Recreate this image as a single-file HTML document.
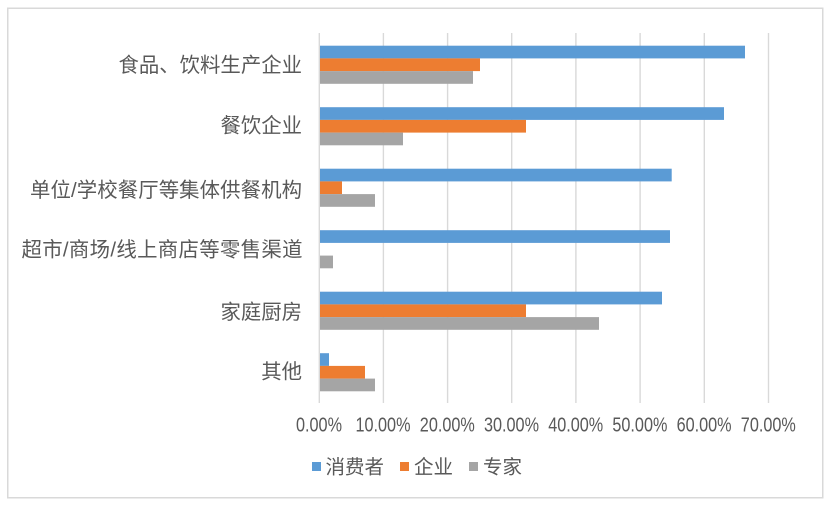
<!DOCTYPE html>
<html>
<head>
<meta charset="utf-8">
<style>
  html, body { margin: 0; padding: 0; background: #ffffff; }
  body { width: 830px; height: 507px; overflow: hidden; }
  svg { display: block; }
  .cat { font-family: "Liberation Sans", "Noto Sans CJK SC", sans-serif; font-size: 20.4px; fill: #595959; }
  .tick { font-family: "Liberation Sans", sans-serif; font-size: 20px; fill: #595959; }
  .leg { font-family: "Liberation Sans", "Noto Sans CJK SC", sans-serif; font-size: 19.5px; fill: #595959; }
</style>
</head>
<body>
<svg width="830" height="507" viewBox="0 0 830 507" xmlns="http://www.w3.org/2000/svg">
  <rect x="0" y="0" width="830" height="507" fill="#ffffff"/>
  <rect x="7.75" y="8.25" width="815" height="489.5" fill="none" stroke="#d9d9d9" stroke-width="1.5"/>

  <!-- gridlines -->
  <g stroke="#d9d9d9" stroke-width="1.4">
    <line x1="319.3" y1="33" x2="319.3" y2="403"/>
    <line x1="383.4" y1="33" x2="383.4" y2="403"/>
    <line x1="447.6" y1="33" x2="447.6" y2="403"/>
    <line x1="511.7" y1="33" x2="511.7" y2="403"/>
    <line x1="575.9" y1="33" x2="575.9" y2="403"/>
    <line x1="640.1" y1="33" x2="640.1" y2="403"/>
    <line x1="704.3" y1="33" x2="704.3" y2="403"/>
    <line x1="768.5" y1="33" x2="768.5" y2="403"/>
  </g>

  <!-- bars -->
  <g>
    <rect x="320" y="45.7" width="425" height="12.7" fill="#5b9bd5"/>
    <rect x="320" y="58.4" width="160" height="12.7" fill="#ed7d31"/>
    <rect x="320" y="71.1" width="153" height="12.7" fill="#a5a5a5"/>

    <rect x="320" y="107.2" width="404" height="12.7" fill="#5b9bd5"/>
    <rect x="320" y="119.9" width="206" height="12.7" fill="#ed7d31"/>
    <rect x="320" y="132.6" width="83" height="12.7" fill="#a5a5a5"/>

    <rect x="320" y="168.7" width="351.7" height="12.7" fill="#5b9bd5"/>
    <rect x="320" y="181.4" width="22" height="12.7" fill="#ed7d31"/>
    <rect x="320" y="194.1" width="55" height="12.7" fill="#a5a5a5"/>

    <rect x="320" y="230.2" width="350" height="12.7" fill="#5b9bd5"/>
    <rect x="320" y="255.6" width="13" height="12.7" fill="#a5a5a5"/>

    <rect x="320" y="291.7" width="342" height="12.7" fill="#5b9bd5"/>
    <rect x="320" y="304.4" width="206" height="12.7" fill="#ed7d31"/>
    <rect x="320" y="317.1" width="279" height="12.7" fill="#a5a5a5"/>

    <rect x="320" y="353.2" width="9" height="12.7" fill="#5b9bd5"/>
    <rect x="320" y="365.9" width="45" height="12.7" fill="#ed7d31"/>
    <rect x="320" y="378.6" width="55" height="12.7" fill="#a5a5a5"/>
  </g>

  <!-- category labels -->
  <g class="cat">
    <text x="302" y="72" text-anchor="end">食品、饮料生产企业</text>
    <text x="302" y="132.5" text-anchor="end">餐饮企业</text>
    <text x="30" y="197" textLength="272" lengthAdjust="spacing">单位/学校餐厅等集体供餐机构</text>
    <text x="21.5" y="256.5" textLength="281" lengthAdjust="spacing">超市/商场/线上商店等零售渠道</text>
    <text x="302" y="319" text-anchor="end">家庭厨房</text>
    <text x="302" y="378.5" text-anchor="end">其他</text>
  </g>

  <!-- tick labels -->
  <g class="tick">
    <text x="296" y="431.5" textLength="46" lengthAdjust="spacingAndGlyphs">0.00%</text>
    <text x="355.5" y="431.5" textLength="55" lengthAdjust="spacingAndGlyphs">10.00%</text>
    <text x="419.8" y="431.5" textLength="55" lengthAdjust="spacingAndGlyphs">20.00%</text>
    <text x="484" y="431.5" textLength="55" lengthAdjust="spacingAndGlyphs">30.00%</text>
    <text x="548.2" y="431.5" textLength="55" lengthAdjust="spacingAndGlyphs">40.00%</text>
    <text x="612.4" y="431.5" textLength="55" lengthAdjust="spacingAndGlyphs">50.00%</text>
    <text x="676.6" y="431.5" textLength="55" lengthAdjust="spacingAndGlyphs">60.00%</text>
    <text x="740.8" y="431.5" textLength="55" lengthAdjust="spacingAndGlyphs">70.00%</text>
  </g>

  <!-- legend -->
  <rect x="312" y="462" width="9" height="9" fill="#5b9bd5"/>
  <text class="leg" x="325.5" y="473.5">消费者</text>
  <rect x="400" y="462" width="9" height="9" fill="#ed7d31"/>
  <text class="leg" x="414" y="473.5">企业</text>
  <rect x="469" y="462" width="9" height="9" fill="#a5a5a5"/>
  <text class="leg" x="483" y="473.5">专家</text>
</svg>
</body>
</html>
